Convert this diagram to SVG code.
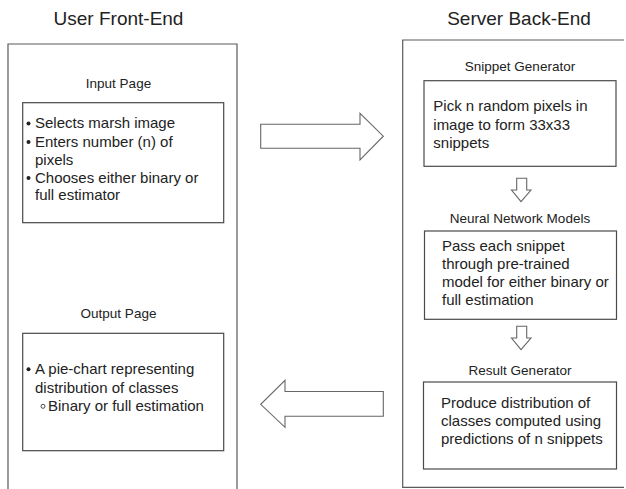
<svg xmlns="http://www.w3.org/2000/svg" width="626" height="489" viewBox="0 0 626 489">
<style>
.frame{fill:none;stroke:#5a5a5a;stroke-width:1.2}
.box{fill:#fff;stroke:#4a4a4a;stroke-width:1.2}
.arrow{fill:#fff;stroke:#666;stroke-width:1.1;stroke-linejoin:miter}
text{font-family:"Liberation Sans",Arial,sans-serif;fill:#222}
.h{font-size:19px;text-anchor:middle}
.lbl{font-size:13.5px;text-anchor:middle}
.t{font-size:15px}
.dot{fill:#222}
.odot{fill:none;stroke:#222;stroke-width:0.8}
</style>
<rect width="626" height="489" fill="#fff"/>

<g id="front-end">
  <text class="h" x="118.5" y="25">User Front-End</text>
  <path class="frame" d="M8,490 V44 H237 V490"/>
</g>

<g id="back-end">
  <text class="h" x="519" y="25">Server Back-End</text>
  <path class="frame" d="M624,40 H402.7 V487.3 H624"/>
</g>

<g id="input-page">
  <text class="lbl" x="118.5" y="88.3">Input Page</text>
  <rect class="box" x="22.7" y="102.7" width="201" height="120"/>
  <circle class="dot" cx="28.5" cy="123.5" r="2"/>
  <text class="t" x="35" y="128.3">Selects marsh image</text>
  <circle class="dot" cx="28.5" cy="142" r="2"/>
  <text class="t" x="35" y="146.6">Enters number (n) of</text>
  <text class="t" x="35" y="164.6">pixels</text>
  <circle class="dot" cx="28.5" cy="178" r="2"/>
  <text class="t" x="35" y="182.6">Chooses either binary or</text>
  <text class="t" x="35" y="200.4">full estimator</text>
</g>

<g id="output-page">
  <text class="lbl" x="118.5" y="318.3">Output Page</text>
  <rect class="box" x="22.7" y="333.3" width="201" height="117.4"/>
  <circle class="dot" cx="28.5" cy="369.3" r="2"/>
  <text class="t" x="35" y="374">A pie-chart representing</text>
  <text class="t" x="35" y="392.6">distribution of classes</text>
  <circle class="odot" cx="43" cy="406.3" r="2"/>
  <text class="t" x="48" y="411">Binary or full estimation</text>
</g>

<g id="snippet-generator">
  <text class="lbl" x="520" y="71">Snippet Generator</text>
  <rect class="box" x="424" y="80.7" width="192" height="85.6"/>
  <text class="t" x="433.3" y="111.3">Pick n random pixels in</text>
  <text class="t" x="433.3" y="130">image to form 33x33</text>
  <text class="t" x="433.3" y="148">snippets</text>
</g>

<g id="neural-network-models">
  <text class="lbl" x="520" y="222.7">Neural Network Models</text>
  <rect class="box" x="424.5" y="231" width="192" height="88.3"/>
  <text class="t" x="442" y="251">Pass each snippet</text>
  <text class="t" x="442" y="269.3">through pre-trained</text>
  <text class="t" x="442" y="287.4">model for either binary or</text>
  <text class="t" x="442" y="305.4">full estimation</text>
</g>

<g id="result-generator">
  <text class="lbl" x="520" y="375">Result Generator</text>
  <rect class="box" x="423.5" y="382" width="193" height="87"/>
  <text class="t" x="441" y="407.5">Produce distribution of</text>
  <text class="t" x="441" y="425.6">classes computed using</text>
  <text class="t" x="441" y="443.6">predictions of n snippets</text>
</g>

<g id="connectors">
  <path class="arrow" d="M260.7,124.3 H360 V113.3 L383.3,136.2 L360,160 V148.3 H260.7 Z"/>
  <path class="arrow" d="M383.3,391.5 H285 V380.3 L260.7,404.3 L285,427.3 V416.3 H383.3 Z"/>
  <path class="arrow" d="M516.7,178.3 H526.7 V190 H531 L521,201.7 L511.5,190 H516.7 Z"/>
  <path class="arrow" d="M516.7,326.3 H526.7 V338 H531 L521,349.7 L511.5,338 H516.7 Z"/>
</g>
</svg>
